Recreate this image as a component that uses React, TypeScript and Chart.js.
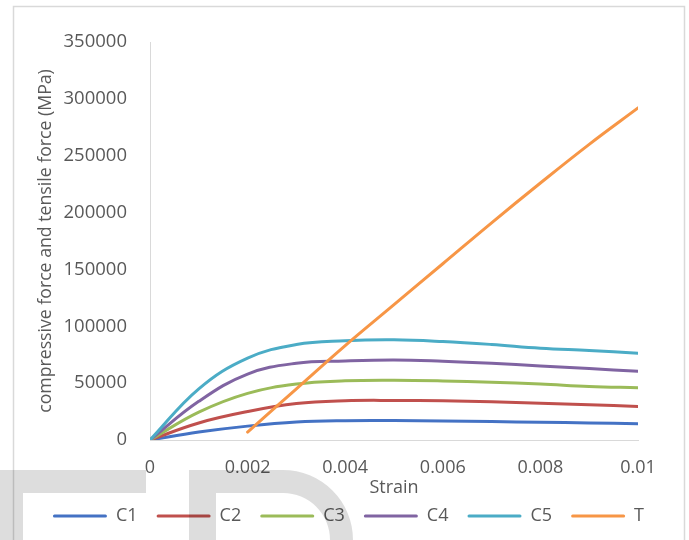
import React, { useEffect, useRef } from "react";
import { Chart, registerables } from "chart.js";

Chart.register(...registerables);

// Strain sample points shared by the compressive curves
const strain = [0, 0.001, 0.002, 0.003, 0.004, 0.005, 0.006, 0.007, 0.008, 0.009, 0.01];

// Compressive force (MPa) per section
const c1 = [0, 7000, 12200, 15800, 17000, 17100, 16800, 16200, 15600, 15000, 14400];
const c2 = [0, 15000, 25000, 32000, 34500, 34800, 34500, 33600, 32400, 31000, 29500];
const c3 = [0, 24500, 41000, 49200, 52000, 52500, 51900, 50700, 49200, 47100, 46000];
const c4 = [0, 34000, 58000, 67500, 69500, 70400, 69300, 67500, 65100, 62800, 60400];
const c5 = [0, 45000, 72000, 84000, 87300, 88100, 86600, 84000, 80700, 78700, 76300];

// Tensile force (MPa)
const tStrain = [0.002, 0.003, 0.004, 0.005, 0.006, 0.007, 0.008, 0.009, 0.01];
const tForce = [7000, 45000, 83000, 119000, 155000, 191000, 226000, 260000, 292000];

const seriesNames = ["C1", "C2", "C3", "C4", "C5", "T"];
const seriesColors = ["#4472C4", "#C0504D", "#9BBB59", "#8064A2", "#4BACC6", "#F79646"];

const yMax = 350000;
const yStep = 50000;
const xMax = 0.01;
const xStep = 0.002;

const FONT = "'Open Sans', sans-serif";
const TEXT = "#595959";

const pairs = (xs: number[], ys: number[]) => xs.map((x, i) => ({ x, y: ys[i] }));

// Light frame around the whole figure
const framePlugin = {
  id: "frame",
  beforeDraw(chart: Chart) {
    const { ctx, width, height } = chart;
    ctx.save();
    ctx.fillStyle = "#ffffff";
    ctx.fillRect(0, 0, width, height);
    ctx.strokeStyle = "#d9d9d9";
    ctx.lineWidth = 1.5;
    ctx.strokeRect(13.5, 6.5, width - 18, height + 20);
    ctx.restore();
  },
};

// Large translucent lettering across the lower edge
const stampPlugin = {
  id: "stamp",
  afterDraw(chart: Chart) {
    const { ctx } = chart;
    ctx.save();
    ctx.fillStyle = "rgba(0,0,0,0.135)";
    ctx.beginPath();
    ctx.rect(0, 470, 146, 23);
    ctx.rect(0, 493, 23, 50);
    ctx.fill();
    ctx.beginPath();
    ctx.moveTo(189, 545);
    ctx.lineTo(189, 470);
    ctx.lineTo(283, 470);
    ctx.arc(283, 540, 70, -Math.PI / 2, Math.PI / 2, false);
    ctx.lineTo(283, 540);
    ctx.arc(283, 540, 47, Math.PI / 2, -Math.PI / 2, true);
    ctx.lineTo(216, 493);
    ctx.lineTo(216, 545);
    ctx.closePath();
    ctx.fill();
    ctx.restore();
  },
};

export default function App() {
  const canvasRef = useRef<HTMLCanvasElement | null>(null);

  useEffect(() => {
    const canvas = canvasRef.current;
    if (!canvas) return;
    const compressive = [c1, c2, c3, c4, c5];
    const datasets = compressive.map((ys, i) => ({
      label: seriesNames[i],
      data: pairs(strain, ys),
      borderColor: seriesColors[i],
      backgroundColor: seriesColors[i],
      order: 5 - i,
    }));
    datasets.push({
      label: seriesNames[5],
      data: pairs(tStrain, tForce),
      borderColor: seriesColors[5],
      backgroundColor: seriesColors[5],
      order: -1,
    });

    const chart = new Chart(canvas, {
      type: "line",
      data: { datasets },
      options: {
        animation: false,
        responsive: false,
        devicePixelRatio: 1,
        layout: { padding: { left: 30, right: 22, top: 42, bottom: 5 } },
        elements: {
          line: {
            borderWidth: 3,
            tension: 0.4,
            borderCapStyle: "round",
            fill: false,
          },
          point: { radius: 0, hoverRadius: 0 },
        },
        plugins: {
          tooltip: { enabled: false },
          legend: {
            position: "bottom",
            labels: {
              boxWidth: 54,
              boxHeight: 3,
              padding: 19,
              color: TEXT,
              font: { family: FONT, size: 18 },
              generateLabels: (ch: Chart) =>
                ch.data.datasets.map((ds: any, i: number) => ({
                  text: ds.label,
                  fillStyle: ds.borderColor,
                  strokeStyle: ds.borderColor,
                  lineWidth: 0,
                  borderRadius: 1.5,
                  hidden: false,
                  datasetIndex: i,
                  fontColor: TEXT,
                })),
            },
          },
        },
        scales: {
          x: {
            type: "linear",
            min: 0,
            max: xMax,
            afterFit: (scale: any) => {
              scale.height = 48;
            },
            grid: { display: false },
            border: { display: true, color: "#d9d9d9", width: 1 },
            ticks: {
              stepSize: xStep,
              padding: 9,
              color: TEXT,
              font: { family: FONT, size: 18 },
              maxRotation: 0,
              callback: (v: any) => String(Number(Number(v).toFixed(3))),
            },
            title: {
              display: true,
              text: "Strain",
              color: TEXT,
              font: { family: FONT, size: 18 },
              padding: { top: 0, bottom: -11 },
            },
          },
          y: {
            min: 0,
            max: yMax,
            afterFit: (scale: any) => {
              scale.width = 120;
            },
            grid: { display: false },
            border: { display: true, color: "#d9d9d9", width: 1 },
            ticks: {
              stepSize: yStep,
              padding: 15,
              color: TEXT,
              font: { family: FONT, size: 18.5 },
              callback: (v: any) => String(v),
            },
            title: {
              display: true,
              text: "compressive force and tensile force (MPa)",
              color: TEXT,
              font: { family: FONT, size: 17.7 },
              padding: { top: 5, bottom: 0 },
            },
          },
          // empty gutter on the right of the plot area
          gutter: {
            type: "linear",
            position: "right",
            display: true,
            afterFit: (scale: any) => {
              scale.width = 29;
            },
            grid: { display: false },
            border: { display: false },
            ticks: { display: false },
          },
        },
      },
      plugins: [framePlugin, stampPlugin],
    });
    return () => chart.destroy();
  }, []);

  return (
    <div style={{ position: "absolute", left: 0, top: 0, width: 689, height: 540 }}>
      <canvas ref={canvasRef} width={689} height={540} style={{ display: "block" }} />
    </div>
  );
}
